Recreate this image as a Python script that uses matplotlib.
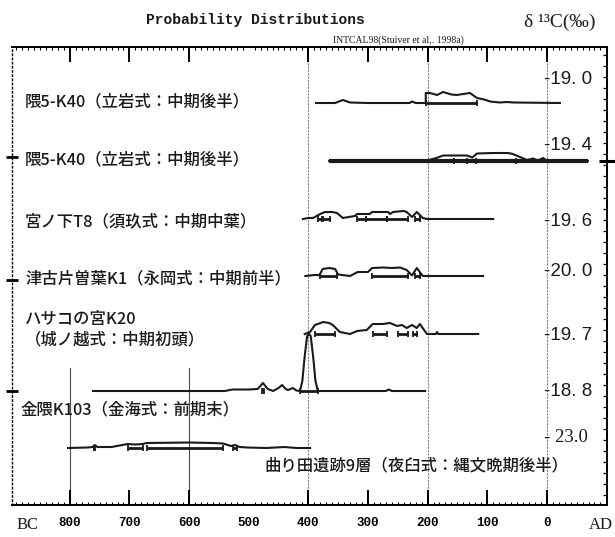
import numpy as np
import matplotlib.pyplot as plt
from matplotlib.ticker import MultipleLocator

plt.rcParams['font.family'] = ['Noto Sans CJK JP', 'DejaVu Sans']

# years: negative = BC, positive = AD ; prob = relative height of the distribution
r1_year = [-387, -355, -342, -330, -300, -230, -226, -220, -203, -203, -196, -184, -174, -160,
           -151, -140, -129, -117, -105, -95, -79, -67, -55, 22]
r1_prob = [0, 0, 3, 0.5, 0, 0, 1.5, 0, 0, 10, 10, 8, 11, 8.5, 8, 9, 10, 5, 3.5, 1.5, 0.5, 1, 0.5, 0]
r1_bars = [(-203, -117)]

r2_year = [-365, -201, -185, -174, -134, -125, -117, -90, -65, -57, -45, -33, -23, -15, -6, 0, 69]
r2_prob = [0, 0.5, 3, 5.5, 5.5, 3.5, 7.5, 8, 8, 7, 4, 1, 2.5, 0.5, 3, 0, 0]
r2_bars = [(-156, -134), (-119, -52)]

r3_year = [-409, -400, -392, -380, -372, -360, -352, -342, -322, -318, -297, -293, -266, -263,
           -258, -240, -235, -226, -218, -208, -201, -90]
r3_prob = [0, 1, 1, 5, 7, 7, 6, 1, 3, 5, 5, 7, 7, 5, 7, 8, 7, 2, 7, 1, 0, 0]
r3_bars = [(-383, -377), (-376, -364), (-318, -304), (-304, -268), (-268, -233), (-221, -213)]

r4_year = [-405, -390, -381, -376, -365, -355, -350, -330, -317, -300, -293, -275, -260, -246,
           -235, -226, -218, -208, -107]
r4_prob = [0, 1, 1, 7, 8, 7, 1.5, 0, 4, 4, 8, 8.5, 8, 8.5, 6, 0.5, 8, 0, 0]
r4_bars = [(-381, -352), (-293, -233), (-221, -213)]

r5_year = [-406, -397, -389, -375, -365, -359, -347, -330, -318, -302, -292, -275, -263, -251,
           -243, -235, -226, -218, -213, -201, -186, -184, -182, -115]
r5_prob = [0, 2, 9, 12, 11, 9, 2, 0, 3, 4, 10, 10, 11, 8, 9, 6, 9, 6, 10, 0, 0, 2, 0, 0]
r5_bars = [(-389, -355), (-292, -268), (-250, -233), (-225, -218)]

r6_year = [-761, -700, -540, -527, -500, -485, -476, -468, -459, -450, -444, -438, -434, -426,
           -420, -414, -410, -406, -402, -399, -396, -392, -388, -384, -270, -265, -260, -204]
r6_prob = [0, 0, 0, 1.5, 1.5, 2, 8, 2, 0, 3, 6, 2, 1, 3, 0.5, 0, 10, 35, 55, 57, 55, 35, 10, 0,
           0, 1.5, 0, 0]
r6_bars = [(-478, -474), (-414, -384)]

r7_year = [-803, -770, -762, -758, -754, -730, -721, -703, -690, -678, -671, -600, -560, -543,
           -535, -530, -523, -515, -503, -470, -440, -420, -397]
r7_prob = [0, 0.5, 1, 3, 1, 1, 2, 4, 3.5, 4, 5, 5.5, 5, 4.5, 3, 2, 3, 1, 0.5, 0, 1, 0, 0]
r7_bars = [(-759, -757), (-703, -678), (-671, -543), (-527, -520)]

labels = ['隈5-K40（立岩式：中期後半）', '隈5-K40（立岩式：中期後半）', '宮ノ下T8（須玖式：中期中葉）',
          '津古片曽葉K1（永岡式：中期前半）', 'ハサコの宮K20\n（城ノ越式：中期初頭）',
          '金隈K103（金海式：前期末）', '曲り田遺跡9層（夜臼式：縄文晩期後半）']
d13c = ['-19. 0', '-19. 4', '-19. 6', '-20. 0', '-19. 7', '-18. 8', '- 23.0']
year_ticks = [-800, -700, -600, -500, -400, -300, -200, -100, 0]
year_labels = ['800', '700', '600', '500', '400', '300', '200', '100', '0']

rows = [(r1_year, r1_prob, r1_bars), (r2_year, r2_prob, r2_bars), (r3_year, r3_prob, r3_bars),
        (r4_year, r4_prob, r4_bars), (r5_year, r5_prob, r5_bars), (r6_year, r6_prob, r6_bars),
        (r7_year, r7_prob, r7_bars)]

# layout (vertical position of each row baseline, in pixel rows)
base_y = [103, 161, 219, 276, 334, 391, 448]
label_pos = [(-875, 102), (-875, 160), (-875, 222), (-875, 279), (-875, 330), (-883, 410), (-473, 466)]
d13c_y = [80, 145, 221, 272, 335, 391, 438]

ink = '#1a1a1a'
fig = plt.figure(figsize=(6.15, 5.37), dpi=100)
ax = fig.add_axes([12 / 615, 32 / 537, 595 / 615, 458 / 537])
ax.set_xlim(-897, 101)
ax.set_ylim(505, 47)

# grid lines
for x in [-400, -200, 0]:
    ax.axvline(x, color='0.5', lw=0.8, ls=(0, (2, 1)), zorder=1)
for x in [-800, -600]:
    ax.axvline(x, ymin=0, ymax=0.3, color='0.3', lw=0.8, zorder=1)

for i, (yr, pr, bars) in enumerate(rows):
    b = base_y[i]
    if i == 1:
        ax.plot([yr[0], yr[-1]], [b, b], color=ink, lw=3.0, solid_capstyle='butt')
    ax.plot(yr, b - np.array(pr), color=ink, lw=1.5, zorder=3)
    for a, e in bars:
        ax.errorbar((a + e) / 2, b, xerr=(e - a) / 2, fmt='none', ecolor=ink,
                    elinewidth=2.0, capsize=2.5, capthick=1.3, zorder=4)

for i, t in enumerate(labels):
    ax.text(label_pos[i][0], label_pos[i][1], t, fontsize=11.8, va='center', ha='left',
            color=ink, linespacing=1.25, fontweight='medium')

for i, t in enumerate(d13c):
    fam = 'Liberation Serif' if i == 6 else 'Liberation Sans'
    ax.text(-4, d13c_y[i], t, fontsize=13.5, va='center', ha='left', color=ink, family=fam)

# axes and ticks
ax.spines['left'].set_linestyle((0, (1, 2)))
ax.spines['left'].set_linewidth(1.0)
for s in ['top', 'bottom', 'right']:
    ax.spines[s].set_linewidth(1.4)
ax.set_xticks(year_ticks)
ax.set_xticklabels(year_labels, family='Liberation Mono', fontweight='bold', fontsize=9)
ax.xaxis.set_minor_locator(MultipleLocator(10))
ax.tick_params(axis='x', which='major', direction='in', top=True, bottom=True,
               length=11, width=1.4, pad=9)
ax.tick_params(axis='x', which='minor', direction='in', top=True, bottom=True, length=2.5, width=0.8)
for k, t in enumerate(ax.xaxis.get_major_ticks()):
    if year_ticks[k] == -500:
        t.tick1line.set_visible(False)
        t.tick2line.set_visible(False)

ax.set_yticks([157, 280, 391])
ax.set_yticklabels([])
ax.tick_params(axis='y', which='major', left=True, right=False, direction='inout', length=9, width=2)

tw = ax.twinx()
tw.set_ylim(505, 47)
tw.set_yticks([161])
tw.set_yticklabels([])
tw.yaxis.set_minor_locator(MultipleLocator(11))
tw.tick_params(axis='y', which='major', direction='inout', length=11, width=2.2)
tw.tick_params(axis='y', which='minor', direction='in', length=3, width=0.9)
for s in tw.spines.values():
    s.set_visible(False)

fig.text(255 / 615, 1 - 20 / 537, 'Probability Distributions', family='Liberation Mono',
         fontweight='bold', fontsize=10.5, ha='center', va='center', color=ink)
fig.text(398 / 615, 1 - 40 / 537, 'INTCAL98(Stuiver et al,. 1998a)', family='Liberation Serif',
         fontsize=7, ha='center', va='center', color=ink)
fig.text(560 / 615, 1 - 22 / 537, 'δ ¹³C(‰)', family='Liberation Serif', fontsize=14,
         ha='center', va='center', color=ink)
fig.text(28 / 615, 1 - 525 / 537, 'BC', family='Liberation Serif', fontsize=12,
         ha='center', va='center', color=ink)
fig.text(601 / 615, 1 - 525 / 537, 'AD', family='Liberation Serif', fontsize=12,
         ha='center', va='center', color=ink)

fig.savefig('out.png', dpi=100)
